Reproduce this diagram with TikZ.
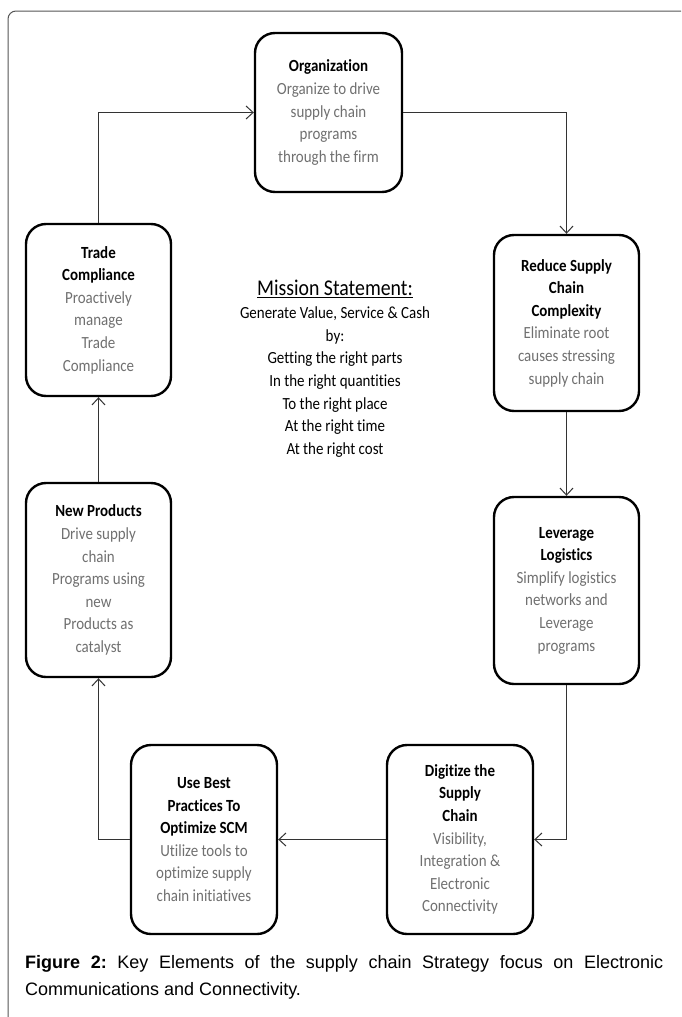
\documentclass[tikz,border=0pt]{standalone}
\usepackage{fontspec}
\setmainfont{Carlito}[FakeStretch=0.88,Ligatures=NoCommon]
\newfontfamily\capfont{Liberation Sans}
\usetikzlibrary{arrows.meta}
\definecolor{desc}{HTML}{707070}
\definecolor{linec}{HTML}{333333}
\definecolor{framec}{HTML}{555555}
\newcommand\ttl[1]{\textcolor{black}{\bfseries #1}}
\frenchspacing
\begin{document}
\begin{tikzpicture}[x=1pt,y=-1pt,
  box/.style={draw=black, line width=2.4pt, rounded corners=20pt, align=center,
    text=desc, font=\fontsize{17}{22.6}\selectfont, inner sep=0pt},
  conn/.style={draw=linec, line width=1pt, -{Straight Barb[length=7pt,width=13pt]}},
  plainline/.style={draw=linec, line width=1pt}]
\useasboundingbox (0,0) rectangle (681,1017);
\fill[white] (0,0) rectangle (681,1017);
\draw[draw=framec, line width=1pt, rounded corners=8pt] (681,11) -- (8,11) -- (8,1017);

\node[box, minimum width=147pt, minimum height=159pt] (org) at (328.5,112.5)
  {\ttl{Organization}\\Organize to drive\\supply chain\\programs\\through the firm};
\node[box, minimum width=145pt, minimum height=172pt] (trade) at (98.5,310)
  {\ttl{Trade}\\\ttl{Compliance}\\Proactively\\manage\\Trade\\Compliance};
\node[box, minimum width=145pt, minimum height=176pt] (reduce) at (566.5,323)
  {\ttl{Reduce Supply}\\\ttl{Chain}\\\ttl{Complexity}\\Eliminate root\\causes stressing\\supply chain};
\node[box, minimum width=145pt, minimum height=194pt] (newp) at (98.5,580)
  {\ttl{New Products}\\Drive supply\\chain\\Programs using\\new\\Products as\\catalyst};
\node[box, minimum width=145pt, minimum height=187pt] (lev) at (566.5,590.5)
  {\ttl{Leverage}\\\ttl{Logistics}\\Simplify logistics\\networks and\\Leverage\\programs};
\node[box, minimum width=146pt, minimum height=189pt] (best) at (204,839.5)
  {\ttl{Use Best}\\\ttl{Practices To}\\\ttl{Optimize SCM}\\Utilize tools to\\optimize supply\\chain initiatives};
\node[box, minimum width=146pt, minimum height=189pt] (dig) at (460,839.5)
  {\ttl{Digitize the}\\\ttl{Supply}\\\ttl{Chain}\\Visibility,\\Integration \&\\Electronic\\Connectivity};

\node[font=\fontsize{22.5}{26}\selectfont, inner sep=0pt] (mtitle) at (335,289)
  {\underline{Mission Statement:}};
\node[align=center, font=\fontsize{17}{22.6}\selectfont, inner sep=0pt] (mbody) at (335,382)
  {Generate Value, Service \& Cash\\by:\\Getting the right parts\\In the right quantities\\To the right place\\At the right time\\At the right cost};

\draw[conn] (trade.north) |- (org.west);
\draw[conn] (org.east) -| (reduce.north);
\draw[conn] (reduce.south) -- (lev.north);
\draw[conn] (lev.south) |- (dig.east);
\draw[conn] (dig.west) -- (best.east);
\draw[conn] (best.west) -| (newp.south);
\draw[conn] (newp.north) -- (trade.south);

\node[anchor=north west, text width=638pt, align=justify, inner sep=0pt,
  font=\capfont\fontsize{18}{27}\selectfont] (cap) at (25,955)
  {\textbf{Figure 2:} Key Elements of the supply chain Strategy focus on Electronic \mbox{Communications} and \mbox{Connectivity.}};
\end{tikzpicture}
\end{document}
